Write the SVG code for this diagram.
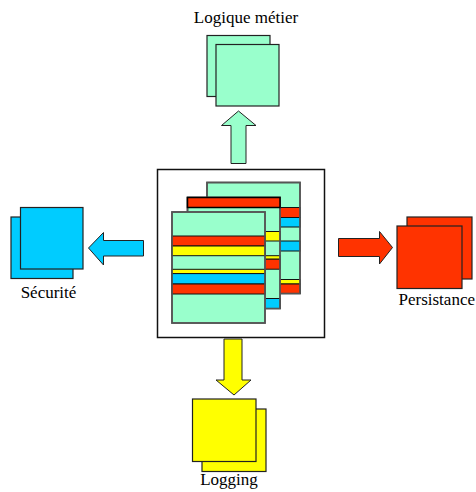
<svg xmlns="http://www.w3.org/2000/svg" width="476" height="492" viewBox="0 0 476 492">
<style>
.mint{fill:#99FFCC}
.blue{fill:#00CCFF}
.red{fill:#FF3300}
.yel{fill:#FFFF00}
.sq{stroke:#222;stroke-width:1.2}
.page{stroke:#555;stroke-width:1.6}
.st{stroke:#111;stroke-width:1}
.arr{stroke:#222;stroke-width:1}
.lbl{font-family:"Liberation Serif","Times New Roman",serif;font-size:17px;fill:#000}
</style>
<rect width="476" height="492" fill="#fff"/>
<g id="core">
<rect x="157.5" y="169.5" width="167" height="168" fill="#fff" stroke="#111" stroke-width="1.5"/>
<g id="page-back">
<rect class="mint page" x="207" y="182.5" width="93" height="111"/>
<rect class="red st" x="207" y="207.5" width="93" height="10"/>
<rect class="blue st" x="207" y="217.5" width="93" height="9.5"/>
<rect class="blue st" x="207" y="241" width="93" height="10"/>
<rect class="yel st" x="207" y="279.5" width="93" height="4.5"/>
<rect class="red st" x="207" y="284" width="93" height="9.5"/>
<rect fill="none" class="page" x="207" y="182.5" width="93" height="111"/>
</g>
<g id="page-middle">
<rect class="mint page" x="187.5" y="197.5" width="92.5" height="111"/>
<rect class="yel st" x="187.5" y="231.5" width="92.5" height="9.5"/>
<rect class="yel st" x="187.5" y="255.7" width="92.5" height="3.5"/>
<rect class="red st" x="187.5" y="259.2" width="92.5" height="10"/>
<rect class="blue st" x="187.5" y="298.5" width="92.5" height="10"/>
<rect fill="none" class="page" x="187.5" y="197.5" width="92.5" height="111"/>
<rect class="red" x="187.5" y="197.5" width="92.5" height="10" stroke="#000" stroke-width="1.5"/>
</g>
<g id="page-front">
<rect class="mint page" x="172" y="212" width="93" height="111"/>
<rect class="red st" x="172" y="236" width="93" height="10"/>
<rect class="yel st" x="172" y="246" width="93" height="9.7"/>
<rect class="yel st" x="172" y="269.3" width="93" height="4.3"/>
<rect class="blue st" x="172" y="273.6" width="93" height="10.4"/>
<rect class="red st" x="172" y="284" width="93" height="10"/>
<rect fill="none" class="page" x="172" y="212" width="93" height="111"/>
</g>
</g>
<g id="connectors">
<polygon class="mint arr" points="238.5,111 256,125.5 246,125.5 246,163.5 231,163.5 231,125.5 221.5,125.5"/>
<polygon class="blue arr" points="88.5,248 103.5,232.5 103.5,240.5 143.5,240.5 143.5,256 103.5,256 103.5,265"/>
<polygon class="red arr" points="392.5,247.5 379.5,231.5 379.5,238.5 338.5,238.5 338.5,256.5 379.5,256.5 379.5,264"/>
<polygon class="yel arr" points="234,395 251,380 242,380 242,339 224,339 224,380 216,380"/>
</g>
<g id="logique-metier">
<rect class="mint sq" x="207" y="35.5" width="63" height="61"/>
<rect class="mint sq" x="216" y="44.5" width="63" height="61.5"/>
<text class="lbl" x="246" y="23" text-anchor="middle">Logique métier</text>
</g>
<g id="securite">
<rect class="blue sq" x="11" y="217" width="62" height="61.5"/>
<rect class="blue sq" x="20.5" y="207.5" width="62.5" height="61.5"/>
<text class="lbl" x="48.5" y="298" text-anchor="middle">Sécurité</text>
</g>
<g id="persistance">
<rect class="red sq" x="407" y="217" width="65" height="62"/>
<rect class="red sq" x="397" y="226" width="65" height="62.5"/>
<text class="lbl" x="398.5" y="305">Persistance</text>
</g>
<g id="logging">
<rect class="yel sq" x="202" y="409" width="64" height="62.5"/>
<rect class="yel sq" x="192.5" y="399" width="63.5" height="62.5"/>
<text class="lbl" x="229" y="485" text-anchor="middle">Logging</text>
</g>
</svg>
